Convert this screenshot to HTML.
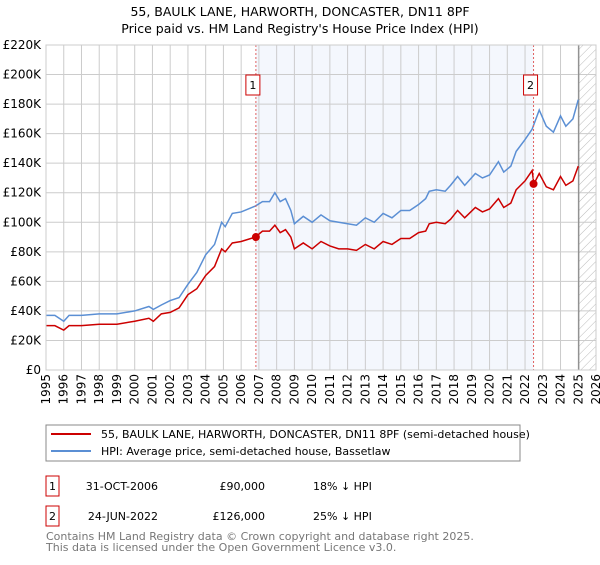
<!DOCTYPE html>
<html><head><meta charset="utf-8"><style>
body{margin:0;background:#fff;font-family:"Liberation Sans","DejaVu Sans",sans-serif;}
svg text{font-family:"DejaVu Sans","Liberation Sans",sans-serif;}
</style></head><body>
<svg id="chart" width="600" height="560" viewBox="0 0 600 560" xmlns="http://www.w3.org/2000/svg">
<defs><pattern id="hatch" patternUnits="userSpaceOnUse" width="6" height="6" patternTransform="rotate(45)"><line x1="0" y1="0" x2="0" y2="6" stroke="#bbb" stroke-width="1"/></pattern></defs>
<text x="300" y="16" text-anchor="middle" font-size="12.5">55, BAULK LANE, HARWORTH, DONCASTER, DN11 8PF</text>
<text x="300" y="33" text-anchor="middle" font-size="12.5">Price paid vs. HM Land Registry's House Price Index (HPI)</text>
<g id="grid"></g><g id="series"></g><g id="axes"></g>
<rect x="46" y="425" width="474" height="36" fill="#fff" stroke="#888"/>
<line x1="51" y1="434" x2="91" y2="434" stroke="#cc0000" stroke-width="2"/>
<text x="101" y="438" font-size="11">55, BAULK LANE, HARWORTH, DONCASTER, DN11 8PF (semi-detached house)</text>
<line x1="51" y1="451" x2="91" y2="451" stroke="#5b8fd4" stroke-width="2"/>
<text x="101" y="455" font-size="11">HPI: Average price, semi-detached house, Bassetlaw</text>
<g font-size="11">
<rect x="46" y="476" width="13" height="20" fill="#fff" stroke="#cc0000"/><text x="52.5" y="490" text-anchor="middle">1</text>
<text x="158" y="490" text-anchor="end">31-OCT-2006</text><text x="265" y="490" text-anchor="end">£90,000</text><text x="313" y="490">18% ↓ HPI</text></g>
<g font-size="11">
<rect x="46" y="506" width="13" height="20" fill="#fff" stroke="#cc0000"/><text x="52.5" y="520" text-anchor="middle">2</text>
<text x="158" y="520" text-anchor="end">24-JUN-2022</text><text x="265" y="520" text-anchor="end">£126,000</text><text x="313" y="520">25% ↓ HPI</text></g>
<text x="46" y="540" font-size="11" fill="#777">Contains HM Land Registry data © Crown copyright and database right 2025.</text>
<text x="46" y="551" font-size="11" fill="#777">This data is licensed under the Open Government Licence v3.0.</text>
</svg>
<script>
const hpiYears=[1995,1995.5,1996,1996.3,1997,1998,1999,2000,2000.8,2001.05,2001.5,2002,2002.5,2003,2003.5,2004,2004.5,2004.9,2005.1,2005.5,2006,2006.8,2007.2,2007.6,2007.9,2008.2,2008.5,2008.8,2009,2009.5,2010,2010.5,2011,2011.5,2012,2012.5,2013,2013.5,2014,2014.5,2015,2015.5,2016,2016.4,2016.6,2017,2017.5,2017.8,2018.2,2018.6,2019.2,2019.6,2020,2020.5,2020.8,2021.2,2021.5,2022,2022.4,2022.8,2023.2,2023.6,2024,2024.3,2024.7,2025];
const hpiValues=[37,37,33,37,37,38,38,40,43,41,44,47,49,58,66,78,85,100,97,106,107,111,114,114,120,114,116,108,99,104,100,105,101,100,99,98,103,100,106,103,108,108,112,116,121,122,121,125,131,125,133,130,132,141,134,138,148,156,163,176,165,161,172,165,170,183];
const priceYears=[1995,1995.5,1996,1996.3,1997,1998,1999,2000,2000.8,2001.05,2001.5,2002,2002.5,2003,2003.5,2004,2004.5,2004.9,2005.1,2005.5,2006,2006.8,2007.2,2007.6,2007.9,2008.2,2008.5,2008.8,2009,2009.5,2010,2010.5,2011,2011.5,2012,2012.5,2013,2013.5,2014,2014.5,2015,2015.5,2016,2016.4,2016.6,2017,2017.5,2017.8,2018.2,2018.6,2019.2,2019.6,2020,2020.5,2020.8,2021.2,2021.5,2022,2022.4,2022.5,2022.8,2023.2,2023.6,2024,2024.3,2024.7,2025];
const priceValues=[30,30,27,30,30,31,31,33,35,33,38,39,42,51,55,64,70,82,80,86,87,90,94,94,98,93,95,90,82,86,82,87,84,82,82,81,85,82,87,85,89,89,93,94,99,100,99,102,108,103,110,107,109,116,110,113,122,128,135,126,133,124,122,131,125,128,138];
const saleYears=[2006.83,2022.48];
const saleValues=[90,126];
const saleLabels=["1","2"];
const yTicks=[0,20,40,60,80,100,120,140,160,180,200,220];
const yTickLabels=["£0","£20K","£40K","£60K","£80K","£100K","£120K","£140K","£160K","£180K","£200K","£220K"];
const xTicks=[1995,1996,1997,1998,1999,2000,2001,2002,2003,2004,2005,2006,2007,2008,2009,2010,2011,2012,2013,2014,2015,2016,2017,2018,2019,2020,2021,2022,2023,2024,2025,2026];
const dataEndYear=2025;

const NS="http://www.w3.org/2000/svg";
const X0=46,X1=596,Y0=370,Y1=45;
const xs=y=>X0+(y-1995)/(2026-1995)*(X1-X0);
const ys=v=>Y0-v/220*(Y0-Y1);
function mk(tag,attrs,parent){const e=document.createElementNS(NS,tag);for(const k in attrs)e.setAttribute(k,attrs[k]);parent.appendChild(e);return e;}
const grid=document.getElementById('grid'),ser=document.getElementById('series'),ax=document.getElementById('axes');
let r=mk('rect',{x:xs(saleYears[0]),y:Y1,width:xs(saleYears[1])-xs(saleYears[0]),height:Y0-Y1,fill:'#f4f7fd'},grid);


r=mk('rect',{x:xs(dataEndYear),y:Y1,width:X1-xs(dataEndYear),height:Y0-Y1,fill:'url(#hatch)'},grid);


yTicks.forEach((v,i)=>{
 mk('line',{x1:X0,x2:X1,y1:ys(v),y2:ys(v),stroke:'#ccc'},grid);
 const t=mk('text',{x:X0-5,y:ys(v)+4,'text-anchor':'end','font-size':'12'},ax);
 t.textContent=yTickLabels[i];
 
 
});
xTicks.forEach(y=>{
 mk('line',{x1:xs(y),x2:xs(y),y1:Y1,y2:Y0,stroke:'#ccc'},grid);
 const t=mk('text',{x:0,y:0,'text-anchor':'end','font-size':'12',transform:`translate(${xs(y)+4},${Y0+4}) rotate(-90)`},ax);
 t.textContent=y;
 
 
});
const endLine=mk('line',{x1:xs(dataEndYear)+0.5,x2:xs(dataEndYear)+0.5,y1:Y1,y2:Y0,stroke:'#888','stroke-width':1.2},grid);


function line(xa,va,color,name){
 const p=mk('polyline',{points:xa.map((x,i)=>xs(x)+','+ys(va[i])).join(' '),fill:'none',stroke:color,'stroke-width':1.5},ser);
 
 
}
line(hpiYears,hpiValues,'#5b8fd4','hpi-line');
line(priceYears,priceValues,'#cc0000','price-paid-line');
saleYears.forEach((y,i)=>{
 mk('line',{x1:xs(y),x2:xs(y),y1:Y1,y2:Y0,stroke:'#e06060','stroke-dasharray':'2,2'},ser);
 const c=mk('circle',{cx:xs(y),cy:ys(saleValues[i]),r:4,fill:'#cc0000'},ser);
 
 
 const b=mk('rect',{x:xs(y)-10,y:75,width:14,height:20,fill:'#fff',stroke:'#cc0000'},ser);
 
 
 const t=mk('text',{x:xs(y)-3,y:89,'text-anchor':'middle','font-size':'11'},ser);
 t.textContent=saleLabels[i];
});
mk('rect',{x:X0,y:Y1,width:X1-X0,height:Y0-Y1,fill:'none',stroke:'#ccc'},ax);
</script>
</body></html>
